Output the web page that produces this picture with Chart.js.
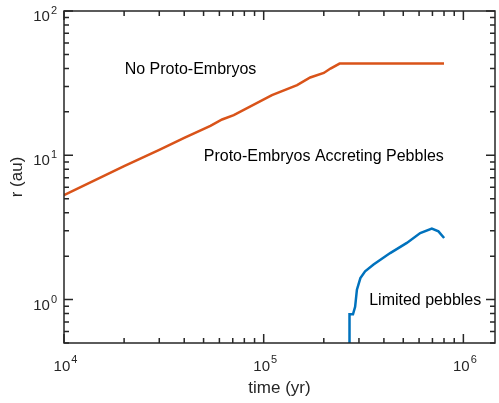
<!DOCTYPE html>
<html>
<head>
<meta charset="utf-8">
<script src="https://cdn.jsdelivr.net/npm/chart.js@4/dist/chart.umd.min.js"></script>
<style>
  html, body { margin: 0; padding: 0; background: #fff; }
  canvas { display: block; }
</style>
</head>
<body>
<canvas id="c" width="499" height="403"></canvas>
<script>
// r(t) sin proto-embriones (naranja) y con guijarros limitados (azul)
const orangeT = [1e4, 2e4, 3e4, 4e4, 5.41e4, 6.19e4, 7.08e4, 1.10e5, 1.47e5, 1.71e5, 2.0e5, 2.16e5, 2.40e5, 8.0e5];
const orangeR = [5.3, 8.4, 10.9, 13.2, 16.0, 17.7, 19.0, 26.1, 30.6, 34.6, 37.2, 39.9, 43.2, 43.2];

const blueT = [2.69e5, 2.69e5, 2.80e5, 2.87e5, 2.93e5, 3.05e5, 3.22e5, 3.55e5, 4.30e5, 5.21e5, 6.08e5, 6.95e5, 7.50e5, 8.01e5];
const blueR = [0.45, 0.79, 0.79, 0.89, 1.17, 1.41, 1.57, 1.75, 2.10, 2.47, 2.89, 3.10, 2.97, 2.67];

const xMajor = [1e4, 1e5, 1e6];
const yMajor = [1e0, 1e1, 1e2];
const xRange = [1e4, 1.44e6];
const yRange = [0.5, 100];

// etiquetas: [texto, t, r]
const notes = [
    ['No Proto-Embryos', 4.3e4, 39.5],
    ['Proto-Embryos Accreting Pebbles', 2.0e5, 9.75],
    ['Limited pebbles', 6.44e5, 0.99],
];

const axisCol = '#262626';
const font = '"Liberation Sans", Arial, sans-serif';

const toXY = (xs, ys) => xs.map((x, i) => ({ x, y: ys[i] }));

function minorTicks(min, max) {
    const out = [];
    for (let d = Math.floor(Math.log10(min)); d <= Math.ceil(Math.log10(max)); d++) {
        for (let k = 1; k <= 9; k++) {
            const v = k * Math.pow(10, d);
            if (v >= min * 0.999 && v <= max * 1.001) out.push({ v, major: k === 1 });
        }
    }
    return out;
}

const frame = {
    id: 'frame',
    afterDraw(chart) {
        const { ctx, chartArea: a, scales: { x, y } } = chart;
        ctx.save();
        ctx.strokeStyle = axisCol;
        ctx.lineWidth = 1.5;
        ctx.strokeRect(a.left, a.top, a.right - a.left, a.bottom - a.top);

        ctx.beginPath();
        for (const t of minorTicks(xRange[0], xRange[1])) {
            const px = x.getPixelForValue(t.v);
            const len = t.major ? 9 : 5;
            ctx.moveTo(px, a.bottom); ctx.lineTo(px, a.bottom - len);
            ctx.moveTo(px, a.top); ctx.lineTo(px, a.top + len);
        }
        for (const t of minorTicks(yRange[0], yRange[1])) {
            const py = y.getPixelForValue(t.v);
            const len = t.major ? 9 : 5;
            ctx.moveTo(a.left, py); ctx.lineTo(a.left + len, py);
            ctx.moveTo(a.right, py); ctx.lineTo(a.right - len, py);
        }
        ctx.stroke();

        // etiquetas 10^n
        ctx.fillStyle = axisCol;
        ctx.textBaseline = 'alphabetic';
        ctx.textAlign = 'left';
        const big = `15px ${font}`, small = `11px ${font}`;
        for (const v of xMajor) {
            const px = x.getPixelForValue(v);
            const exp = String(Math.round(Math.log10(v)));
            ctx.font = big; const w1 = ctx.measureText('10').width;
            ctx.font = small; const w2 = ctx.measureText(exp).width;
            const x0 = px - (w1 + w2) / 2 + 1;
            ctx.font = big; ctx.fillText('10', x0, a.bottom + 28);
            ctx.font = small; ctx.fillText(exp, x0 + w1 + 1, a.bottom + 20);
        }
        for (const v of yMajor) {
            const py = y.getPixelForValue(v);
            const exp = String(Math.round(Math.log10(v)));
            ctx.font = small; const w2 = ctx.measureText(exp).width;
            ctx.font = big; const w1 = ctx.measureText('10').width;
            const right = a.left - 7;
            ctx.font = big; ctx.fillText('10', right - w2 - 1 - w1, py + 10);
            ctx.font = small; ctx.fillText(exp, right - w2, py + 3);
        }

        // títulos de ejes
        ctx.font = `17px ${font}`;
        ctx.textAlign = 'center';
        ctx.textBaseline = 'middle';
        ctx.fillText('time (yr)', (a.left + a.right) / 2, a.bottom + 45);
        ctx.save();
        ctx.translate(17, (a.top + a.bottom) / 2);
        ctx.rotate(-Math.PI / 2);
        ctx.fillText('r (au)', 0, 0);
        ctx.restore();

        // anotaciones
        ctx.fillStyle = '#000';
        ctx.font = `16px ${font}`;
        for (const [txt, tv, rv] of notes) {
            ctx.fillText(txt, x.getPixelForValue(tv), y.getPixelForValue(rv));
        }
        ctx.restore();
    },
};

new Chart(document.getElementById('c'), {
    type: 'line',
    data: {
        datasets: [
            {
                data: toXY(orangeT, orangeR),
                borderColor: '#D95319',
                borderWidth: 2.5,
                pointRadius: 0,
                tension: 0,
            },
            {
                data: toXY(blueT, blueR),
                borderColor: '#0072BD',
                borderWidth: 2.5,
                pointRadius: 0,
                tension: 0,
            },
        ],
    },
    options: {
        responsive: false,
        animation: false,
        events: [],
        layout: { padding: { left: 64, top: 11, right: 4, bottom: 60 } },
        plugins: { legend: { display: false }, tooltip: { enabled: false } },
        scales: {
            x: { type: 'logarithmic', min: xRange[0], max: xRange[1], display: false },
            y: { type: 'logarithmic', min: yRange[0], max: yRange[1], display: false },
        },
    },
    plugins: [frame],
});
</script>
</body>
</html>
